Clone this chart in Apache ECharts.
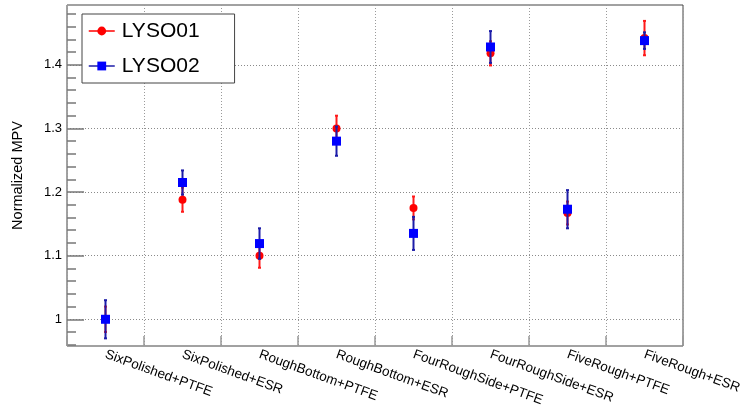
<!DOCTYPE html>
<html>
<head>
<meta charset="utf-8">
<script src="https://cdn.jsdelivr.net/npm/echarts@6/dist/echarts.min.js"></script>
<style>
  html, body { margin: 0; padding: 0; background: #fff; }
  #chart { width: 744px; height: 410px; }
</style>
</head>
<body>
<div id="chart"></div>
<script>
// Sample configurations (crystal surface treatment + wrapping)
const categories = [
  'SixPolished+PTFE', 'SixPolished+ESR', 'RoughBottom+PTFE', 'RoughBottom+ESR',
  'FourRoughSide+PTFE', 'FourRoughSide+ESR', 'FiveRough+PTFE', 'FiveRough+ESR'
];
// Normalized MPV and its uncertainty for each crystal
const lyso01 = [1.000, 1.188, 1.100, 1.300, 1.175, 1.418, 1.167, 1.442];
const lyso01Err = [0.020, 0.019, 0.019, 0.020, 0.018, 0.019, 0.018, 0.027];
const lyso02 = [1.000, 1.215, 1.119, 1.280, 1.135, 1.428, 1.173, 1.438];
const lyso02Err = [0.030, 0.019, 0.024, 0.023, 0.026, 0.025, 0.030, 0.013];
// Y axis labelled ticks and minor ticks
const yMajorTicks = [1.0, 1.1, 1.2, 1.3, 1.4];
const yMinorTicks = [0.96, 0.98, 1.02, 1.04, 1.06, 1.08, 1.12, 1.14, 1.16, 1.18,
  1.22, 1.24, 1.26, 1.28, 1.32, 1.34, 1.36, 1.38, 1.42, 1.44, 1.46, 1.48];

const Y_MIN = 0.958, Y_MAX = 1.494;
const FONT = '"Liberation Sans", Arial, Helvetica, sans-serif';
const RED = '#ff0000', BLUE = '#0000ff';
const RED_BAR = '#ff1a1a', BLUE_BAR = '#1c1ca8';

// Vertical error bar with short end caps, drawn in data space
function errorBarSeries(name, values, errors, color, z) {
  return {
    name: name,
    type: 'custom',
    z: z,
    silent: true,
    data: values.map((v, i) => [i, v - errors[i], v + errors[i]]),
    encode: { x: 0, y: [1, 2] },
    renderItem: function (params, api) {
      const lo = api.coord([api.value(0), api.value(1)]);
      const hi = api.coord([api.value(0), api.value(2)]);
      const x = lo[0];
      const cap = 1.5;
      const style = { stroke: color, lineWidth: 2 };
      return {
        type: 'group',
        children: [
          { type: 'line', shape: { x1: x, y1: lo[1], x2: x, y2: hi[1] }, style: style },
          { type: 'line', shape: { x1: x - cap, y1: lo[1], x2: x + cap, y2: lo[1] }, style: style },
          { type: 'line', shape: { x1: x - cap, y1: hi[1], x2: x + cap, y2: hi[1] }, style: style }
        ]
      };
    }
  };
}

function markerSeries(name, values, color, symbol, size, z) {
  return {
    name: name,
    type: 'line',
    z: z,
    data: values,
    symbol: symbol,
    symbolSize: size,
    showAllSymbol: true,
    itemStyle: { color: color, opacity: 1 },
    lineStyle: { width: 0, opacity: 0 },
    emphasis: { disabled: true },
    animation: false
  };
}

const chart = echarts.init(document.getElementById('chart'), null, { renderer: 'canvas' });

chart.setOption({
  animation: false,
  backgroundColor: '#ffffff',
  textStyle: { fontFamily: FONT },
  grid: {
    left: 67, right: 61, top: 5, bottom: 64,
    outerBoundsMode: 'none',
    containLabel: false,
    show: true, borderColor: '#444', borderWidth: 1, backgroundColor: 'transparent'
  },
  legend: {
    left: 82, top: 14,
    orient: 'vertical',
    padding: [5, 35, 5, 6],
    itemGap: 11,
    itemWidth: 26,
    itemHeight: 11,
    borderColor: '#444', borderWidth: 1,
    backgroundColor: '#fff',
    textStyle: { fontFamily: FONT, fontSize: 21, lineHeight: 24, color: '#000', padding: [0, 0, 0, 2] },
    data: [
      { name: 'LYSO01', lineStyle: { color: RED, width: 1.5, opacity: 1 } },
      { name: 'LYSO02', lineStyle: { color: BLUE_BAR, width: 1.5, opacity: 1 } }
    ]
  },
  xAxis: {
    type: 'category',
    data: categories,
    boundaryGap: true,
    axisLine: { show: false },
    axisTick: { show: true, inside: true, length: 10, interval: 0, lineStyle: { color: '#999', width: 1.5 } },
    axisLabel: {
      interval: 0, rotate: -20, margin: 8,
      fontFamily: FONT, fontSize: 13.5, color: '#000'
    },
    splitLine: { show: true, interval: 0, lineStyle: { color: '#9a9a9a', width: 1, type: [1, 2] } }
  },
  yAxis: [
    {
      type: 'value',
      min: Y_MIN, max: Y_MAX,
      name: 'Normalized MPV',
      nameLocation: 'middle',
      nameGap: 42,
      nameTextStyle: { fontFamily: FONT, fontSize: 14.5, color: '#000' },
      axisLine: { show: false },
      axisTick: { show: true, inside: true, length: 17, customValues: yMajorTicks, lineStyle: { color: '#777', width: 1.5 } },
      axisLabel: {
        customValues: yMajorTicks, margin: 5,
        fontFamily: FONT, fontSize: 13, color: '#000',
        formatter: v => (Math.abs(v - 1) < 1e-9 ? '1' : v.toFixed(1))
      },
      splitLine: { show: true, lineStyle: { color: '#8a8a8a', width: 1, type: [1, 2] } }
    },
    {
      type: 'value',
      min: Y_MIN, max: Y_MAX,
      position: 'left',
      axisLine: { show: false },
      axisTick: { show: true, inside: true, length: 9, customValues: yMinorTicks, lineStyle: { color: '#777', width: 1.5 } },
      axisLabel: { show: false },
      splitLine: { show: false }
    }
  ],
  series: [
    errorBarSeries('LYSO01 error', lyso01, lyso01Err, RED_BAR, 2),
    markerSeries('LYSO01', lyso01, RED, 'circle', 8, 3),
    errorBarSeries('LYSO02 error', lyso02, lyso02Err, BLUE_BAR, 4),
    markerSeries('LYSO02', lyso02, BLUE, 'rect', 9, 5)
  ]
});
</script>
</body>
</html>
